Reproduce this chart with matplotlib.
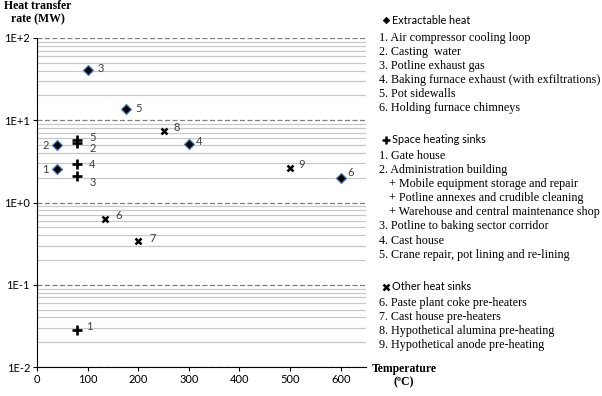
import matplotlib
matplotlib.use("Agg")
import matplotlib.pyplot as plt
from matplotlib.lines import Line2D
from matplotlib.ticker import FixedLocator, LogLocator, FuncFormatter, NullFormatter

# ---- data ----
extract_x = [40, 40, 100, 300, 175, 600]
extract_y = [2.55, 5.0, 41.0, 5.1, 13.6, 2.0]
extract_lbl = ["1", "2", "3", "4", "5", "6"]

space_x = [80, 80, 80, 80, 80]
space_y = [0.028, 5.3, 2.1, 2.9, 5.7]
space_lbl = ["1", "2", "3", "4", "5"]

other_x = [135, 200, 250, 500]
other_y = [0.634, 0.336, 7.4, 2.64]
other_lbl = ["6", "7", "8", "9"]

x_ticks = [0, 100, 200, 300, 400, 500, 600]
y_ticks = [0.01, 0.1, 1, 10, 100]
y_tick_labels = ["1E-2", "1E-1", "1E+0", "1E+1", "1E+2"]

extract_items = ["1. Air compressor cooling loop", "2. Casting  water", "3. Potline exhaust gas",
                 "4. Baking furnace exhaust (with exfiltrations)", "5. Pot sidewalls",
                 "6. Holding furnace chimneys"]
space_items = ["1. Gate house", "2. Administration building",
               "+ Mobile equipment storage and repair",
               "+ Potline annexes and crudible cleaning",
               "+ Warehouse and central maintenance shop",
               "3. Potline to baking sector corridor", "4. Cast house",
               "5. Crane repair, pot lining and re-lining"]
other_items = ["6. Paste plant coke pre-heaters", "7. Cast house pre-heaters",
               "8. Hypothetical alumina pre-heating", "9. Hypothetical anode pre-heating"]

# label offsets in pixels (dx, dy: dy positive = up)
extract_off = [(-12, 0), (-12, 0), (13, 1), (10, 3), (13, 1), (10, 5)]
space_off = [(12, 4), (15, -6), (15, -7), (15, 0), (15, 3)]
other_off = [(13, 3), (14, 3), (13, 4), (12, 3)]

W, H = 602, 396
fig = plt.figure(figsize=(W / 100, H / 100), dpi=100)
ax = fig.add_axes([37 / W, 1 - 367 / H, (366 - 37) / W, (367 - 38) / H])

ax.set_yscale("log")
ax.set_xlim(0, 650)
ax.set_ylim(0.01, 100)

ax.yaxis.set_major_locator(FixedLocator(y_ticks))
ax.yaxis.set_major_formatter(FuncFormatter(lambda v, p: y_tick_labels[y_ticks.index(v)] if v in y_ticks else ""))
ax.yaxis.set_minor_locator(LogLocator(base=10, subs=range(2, 10), numticks=20))
ax.yaxis.set_minor_formatter(NullFormatter())
ax.set_xticks(x_ticks)

ax.grid(True, which="minor", axis="y", color="#c8c8c8", lw=0.9, ls="-")
ax.grid(True, which="major", axis="y", color="#7f7f7f", lw=0.9, ls=(0, (4, 2)))
ax.set_axisbelow(True)
for s in ["top", "right"]:
    ax.spines[s].set_visible(False)
ax.spines["left"].set_color("#000000")
ax.spines["bottom"].set_color("#000000")
ax.tick_params(axis="y", which="minor", length=0)
ax.tick_params(axis="both", which="major", length=3, width=0.8, labelsize=8, pad=2)
for t in ax.get_xticklabels() + ax.get_yticklabels():
    t.set_fontfamily("Lato")

ax.plot(extract_x, extract_y, ls="none", marker="D", ms=5.5, mfc="black", mec="#4a7ebb", mew=0.9, zorder=5)
ax.plot(space_x, space_y, ls="none", marker="+", ms=7.5, mec="black", mew=1.9, zorder=5)
ax.plot(other_x, other_y, ls="none", marker="x", ms=4.5, mec="black", mew=1.8, zorder=5)

def label(xs, ys, ls, offs):
    for x, y, l, (dx, dy) in zip(xs, ys, ls, offs):
        ax.annotate(l, (x, y), xytext=(dx * 0.72, dy * 0.72), textcoords="offset points",
                    ha="center", va="center", fontsize=8, color="#404040", fontfamily="Lato")

label(extract_x, extract_y, extract_lbl, extract_off)
label(space_x, space_y, space_lbl, space_off)
label(other_x, other_y, other_lbl, other_off)

def fx(px):
    return px / W

def fy(py):
    return 1 - py / H

# axis titles
fig.text(fx(38), fy(13), "Heat transfer\nrate (MW)", ha="center", va="center", fontsize=8.5,
         fontweight="bold", fontfamily="Liberation Serif", linespacing=1.15)
fig.text(fx(404), fy(376), "Temperature\n(ºC)", ha="center", va="center", fontsize=8.5,
         fontweight="bold", fontfamily="Liberation Serif", linespacing=1.15)

# legend blocks
def block(head, marker, ms, mew, y_head, items, y_items):
    fig.add_artist(Line2D([fx(386)], [fy(y_head)], marker=marker, ms=ms, mew=mew, mfc="black",
                          mec="black", ls="none", transform=fig.transFigure))
    fig.text(fx(392), fy(y_head), head, ha="left", va="center", fontsize=7.8, fontfamily="Lato")
    for t, y in zip(items, y_items):
        x0 = 389 if t.startswith("+") else 379
        fig.text(fx(x0), fy(y), t, ha="left", va="center", fontsize=8.75, fontfamily="Liberation Serif")

block("Extractable heat", "D", 3.3, 0.5, 20, extract_items, [38 + 14 * i for i in range(6)])
block("Space heating sinks", "+", 5.5, 1.8, 139.5, space_items, [155.7 + 14.15 * i for i in range(8)])
block("Other heat sinks", "x", 4.0, 1.8, 287, other_items, [303 + 14.1 * i for i in range(4)])

fig.savefig("out.png", dpi=100)
